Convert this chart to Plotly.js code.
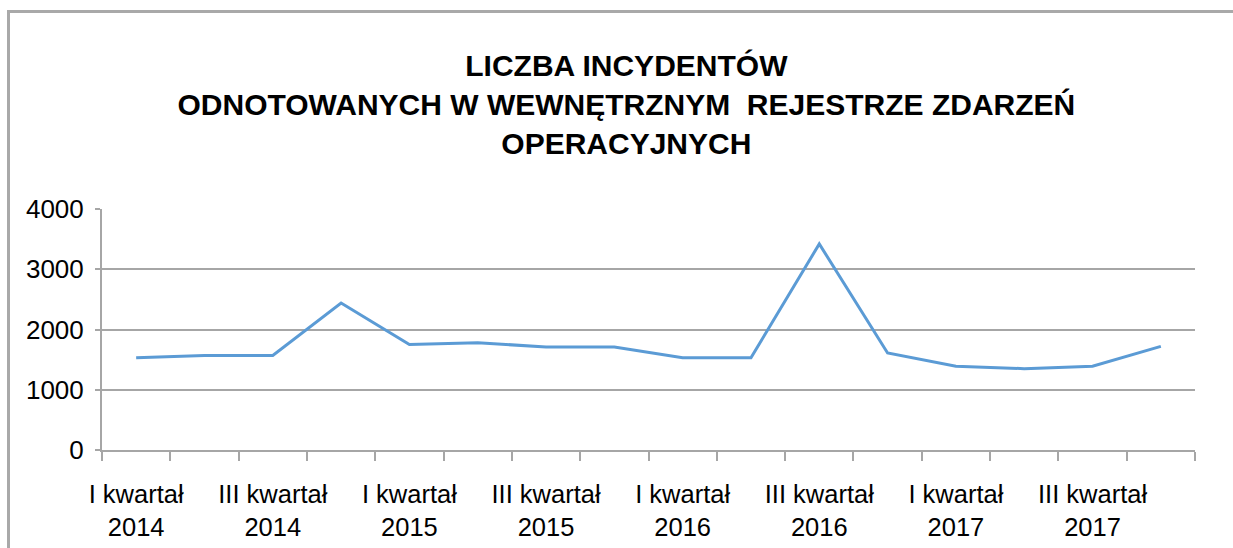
<!DOCTYPE html>
<html>
<head>
<meta charset="utf-8">
<script src="https://cdn.plot.ly/plotly-3.0.1.min.js"></script>
<style>
  html, body { margin: 0; padding: 0; background: #ffffff; }
  #wrap { position: relative; width: 1233px; height: 548px; overflow: hidden; }
  #frame { position: absolute; left: 7px; top: 10px; width: 1300px; height: 600px;
           border-top: 3px solid #a9a9a9; border-left: 3px solid #a9a9a9; pointer-events: none; z-index: 2; }
  #chart { position: absolute; left: 0; top: 0; width: 1233px; height: 548px; }
</style>
</head>
<body>
<div id="wrap">
  <div id="chart"></div>
  <div id="frame"></div>
</div>
<script>
const categories = [
  "I kwartał 2014", "II kwartał 2014", "III kwartał 2014", "IV kwartał 2014",
  "I kwartał 2015", "II kwartał 2015", "III kwartał 2015", "IV kwartał 2015",
  "I kwartał 2016", "II kwartał 2016", "III kwartał 2016", "IV kwartał 2016",
  "I kwartał 2017", "II kwartał 2017", "III kwartał 2017", "IV kwartał 2017"
];
const incidents = [1530, 1570, 1570, 2440, 1750, 1780, 1710, 1710,
                   1530, 1530, 3420, 1610, 1390, 1350, 1390, 1720];
const tickLabels = [
  "I kwartał<br>2014", "", "III kwartał<br>2014", "",
  "I kwartał<br>2015", "", "III kwartał<br>2015", "",
  "I kwartał<br>2016", "", "III kwartał<br>2016", "",
  "I kwartał<br>2017", "", "III kwartał<br>2017", ""
];
const yTicks = [0, 1000, 2000, 3000, 4000];
const titleText = "LICZBA INCYDENTÓW<br>ODNOTOWANYCH W WEWNĘTRZNYM \u00a0REJESTRZE ZDARZEŃ<br>OPERACYJNYCH";

const trace = {
  x: categories,
  y: incidents,
  type: "scatter",
  mode: "lines",
  line: { color: "#5b9bd5", width: 3 },
  hoverinfo: "x+y"
};

const layout = {
  width: 1233,
  height: 548,
  paper_bgcolor: "#ffffff",
  plot_bgcolor: "#ffffff",
  margin: { l: 102, r: 38, t: 209, b: 98 },
  showlegend: false,
  font: { family: "Liberation Sans, Arial, sans-serif", color: "#000000", size: 22 },
  title: {
    text: titleText,
    font: { family: "Liberation Sans, Arial, sans-serif", size: 30, color: "#000000", weight: "bold" },
    x: 0.508, xref: "container", xanchor: "center",
    y: 1 - 76 / 548, yref: "container", yanchor: "top"
  },
  xaxis: {
    type: "category",
    range: [-0.5, categories.length - 0.5],
    tickson: "boundaries",
    tickmode: "array",
    tickvals: categories,
    ticktext: tickLabels,
    ticks: "outside",
    ticklen: 9,
    tickwidth: 2,
    tickcolor: "#a6a6a6",
    showline: true,
    linecolor: "#a6a6a6",
    linewidth: 2,
    showgrid: false,
    zeroline: false,
    tickangle: 0,
    ticklabelstandoff: 20,
    tickfont: { size: 25.5, color: "#000000" },
    fixedrange: true
  },
  yaxis: {
    range: [0, 4000],
    tickmode: "array",
    tickvals: yTicks,
    ticktext: yTicks.map(String),
    ticks: "outside",
    ticklen: 5,
    tickwidth: 2,
    tickcolor: "#a6a6a6",
    showline: true,
    linecolor: "#a6a6a6",
    linewidth: 2,
    showgrid: true,
    gridcolor: "#a6a6a6",
    gridwidth: 2,
    zeroline: false,
    ticklabelstandoff: 6,
    tickfont: { size: 26, color: "#000000" },
    fixedrange: true
  }
};

Plotly.newPlot("chart", [trace], layout, { displayModeBar: false, staticPlot: false });
</script>
</body>
</html>
